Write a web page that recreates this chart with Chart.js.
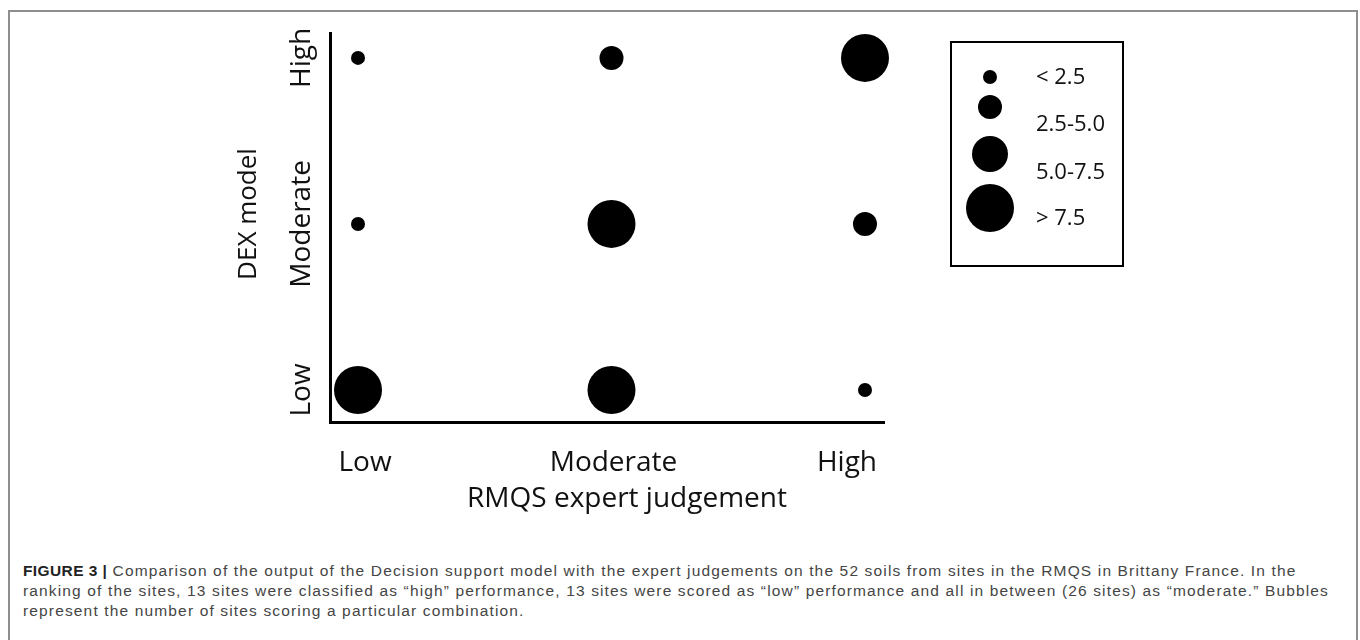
<!DOCTYPE html>
<html>
<head>
<meta charset="utf-8">
<script src="https://cdn.jsdelivr.net/npm/chart.js@4.4.1/dist/chart.umd.min.js"></script>
<style>
  html, body { margin: 0; padding: 0; background: #fff; }
  body { width: 1360px; height: 640px; overflow: hidden; position: relative; }
  .frame { position: absolute; left: 8px; top: 10px; width: 1346px; height: 700px; border: 2px solid #8e8e8e; }
  #bubbleChart { position: absolute; left: 0; top: 0; }
  .legend { position: absolute; left: 950px; top: 41px; width: 170px; height: 222px; border: 2px solid #000; }
  .legend .dot { position: absolute; background: #000; border-radius: 50%; }
  .legend .lbl { position: absolute; font-family: "Open Sans", sans-serif; font-size: 22px; color: #111; line-height: 1; white-space: nowrap; }
  .caption { position: absolute; left: 23px; top: 561px; font-family: "Liberation Sans", Arial, sans-serif; font-size: 15.5px; letter-spacing: 1.15px; line-height: 20px; color: #454545; white-space: nowrap; }
  .caption b { color: #222; letter-spacing: 0.4px; }
</style>
</head>
<body>
<div class="frame"></div>
<canvas id="bubbleChart" width="1360" height="530"></canvas>
<div class="legend" id="legend"></div>
<div class="caption">
  <b>FIGURE 3 |</b> Comparison of the output of the Decision support model with the expert judgements on the 52 soils from sites in the RMQS in Brittany France. In the<br>
  ranking of the sites, 13 sites were classified as “high” performance, 13 sites were scored as “low” performance and all in between (26 sites) as “moderate.” Bubbles<br>
  represent the number of sites scoring a particular combination.
</div>
<script>
// categories (x = expert judgement, y = DEX model)
const expertLevels = ['Low', 'Moderate', 'High'];
const dexLevels = ['Low', 'Moderate', 'High'];

// number of sites per cell, one array per DEX level, ordered like expertLevels
const sitesDexLow = [10, 8, 1];
const sitesDexModerate = [2, 15, 3];
const sitesDexHigh = [1, 3, 9];

// bubble size classes used in the legend
const sizeClassLabels = ['< 2.5', '2.5-5.0', '5.0-7.5', '> 7.5'];
const sizeClassBreaks = [2.5, 5.0, 7.5];

// drawing radius (px) for each size class
const classRadius = [7, 12, 18, 24];
// small horizontal nudges of the x labels, as in the figure
const xLabelNudge = [7, 2, -18];

function sizeClass(n) {
  let c = 0;
  while (c < sizeClassBreaks.length && n >= sizeClassBreaks[c]) c++;
  return c;
}

const rows = [sitesDexLow, sitesDexModerate, sitesDexHigh];
const points = [];
rows.forEach((row, yi) => {
  row.forEach((n, xi) => {
    points.push({ x: xi, y: yi, r: classRadius[sizeClass(n)], n: n });
  });
});

const labelFont = '28px "Open Sans", sans-serif';

// draws tick labels and axis titles (y ones rotated like the figure)
const axisText = {
  id: 'axisText',
  afterDraw(chart) {
    const ctx = chart.ctx;
    const xs = chart.scales.x, ys = chart.scales.y;
    ctx.save();
    ctx.fillStyle = '#111';
    ctx.font = labelFont;
    ctx.textAlign = 'center';
    ctx.textBaseline = 'alphabetic';
    expertLevels.forEach((lab, i) => {
      ctx.fillText(lab, xs.getPixelForValue(i) + xLabelNudge[i], 471);
    });
    ctx.fillText('RMQS expert judgement', 627, 507);

    dexLevels.forEach((lab, i) => {
      ctx.save();
      ctx.translate(310, ys.getPixelForValue(i));
      ctx.rotate(-Math.PI / 2);
      ctx.fillText(lab, 0, 0);
      ctx.restore();
    });
    ctx.save();
    ctx.font = '26px "Open Sans", sans-serif';
    ctx.translate(256, 214);
    ctx.rotate(-Math.PI / 2);
    ctx.fillText('DEX model', 0, 0);
    ctx.restore();
    ctx.restore();
  }
};

new Chart(document.getElementById('bubbleChart'), {
  type: 'bubble',
  data: {
    datasets: [{
      label: 'Sites',
      data: points,
      backgroundColor: '#000',
      borderColor: '#000',
      borderWidth: 0,
      clip: false
    }]
  },
  options: {
    responsive: false,
    animation: false,
    events: [],
    layout: { padding: { left: 0, top: 33, right: 476, bottom: 0 } },
    plugins: {
      legend: { display: false },
      tooltip: { enabled: false }
    },
    scales: {
      x: {
        type: 'linear',
        min: -0.1105,
        max: 2.075,
        grid: { display: false },
        border: { display: true, color: '#000', width: 3 },
        ticks: { display: false },
        afterFit(scale) { scale.height = 108; }
      },
      y: {
        type: 'linear',
        min: -0.193,
        max: 2.15,
        grid: { display: false },
        border: { display: true, color: '#000', width: 3 },
        ticks: { display: false },
        afterFit(scale) { scale.width = 330; }
      }
    }
  },
  plugins: [axisText]
});

// legend: one dot per size class
const legend = document.getElementById('legend');
const dotY = [77, 107, 154, 208];
const textY = [77, 124, 172, 218];
sizeClassLabels.forEach((lab, i) => {
  const r = classRadius[i];
  const dot = document.createElement('div');
  dot.className = 'dot';
  dot.style.width = (2 * r) + 'px';
  dot.style.height = (2 * r) + 'px';
  dot.style.left = (990 - 952 - r) + 'px';
  dot.style.top = (dotY[i] - 43 - r) + 'px';
  legend.appendChild(dot);
  const t = document.createElement('div');
  t.className = 'lbl';
  t.textContent = lab;
  t.style.left = (1036 - 952) + 'px';
  t.style.top = (textY[i] - 43 - 13) + 'px';
  legend.appendChild(t);
});
</script>
</body>
</html>
